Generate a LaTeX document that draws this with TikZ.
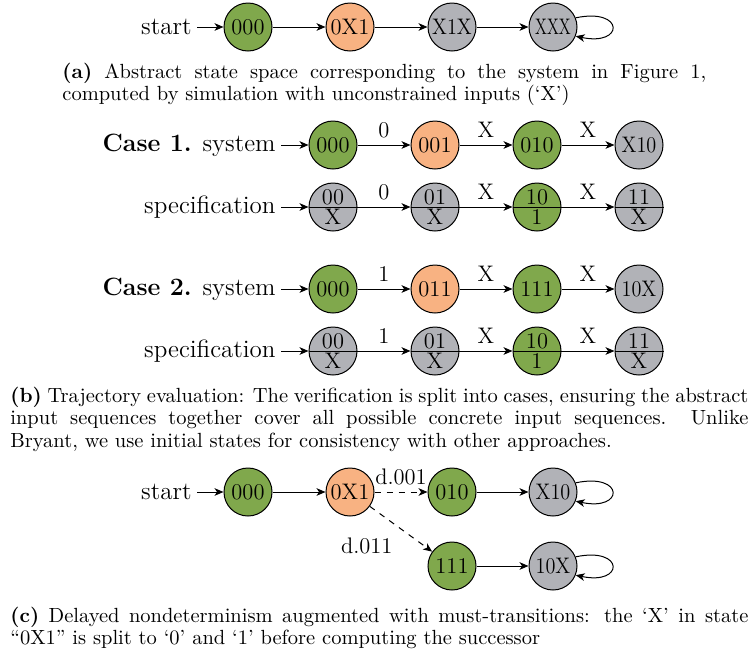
\documentclass[tikz,border=0pt]{standalone}
\usepackage{graphicx}
\usetikzlibrary{arrows.meta}
\definecolor{sgreen}{RGB}{128,168,76}
\definecolor{sorange}{RGB}{248,178,130}
\definecolor{sgray}{RGB}{177,178,183}
\newcommand\nfont{\fontsize{11.25}{13.5}\selectfont}
\newcommand\lfont{\fontsize{12.5}{15}\selectfont}
\newcommand\cfont{\fontsize{10.25}{11.25}\selectfont}
\newcommand\sq[2]{\scalebox{#1}[1]{#2}}
\newcommand\jl[2]{\hbox to #1{#2}}
\tikzset{
  state/.style={circle, draw, line width=0.5pt, minimum size=24pt, inner sep=0pt, font=\nfont},
  gst/.style={state, fill=sgreen},
  ost/.style={state, fill=sorange},
  yst/.style={state, fill=sgray},
  stxt/.style={inner sep=0.5pt, font=\nfont},
  lbl/.style={inner sep=2.5pt, font=\lfont, anchor=east},
  elbl/.style={inner sep=3.5pt, font=\nfont},
  arr/.style={-{Stealth[length=4.5pt,width=3.8pt,inset=1.3pt]}, line width=0.5pt},
  captxt/.style={inner sep=0pt, align=justify, font=\cfont, anchor=base west}
}
\newcommand\specnode[5]{%
  \node[state, fill=#4] (#1) at #5 {};
  \draw[line width=0.5pt] (#1.west) -- (#1.east);
  \node[stxt, anchor=south, yshift=0.5pt] (#1t) at (#1.center) {#2};
  \node[stxt, anchor=north, yshift=-0.5pt] (#1b) at (#1.center) {#3};
}
\begin{document}
\begin{tikzpicture}[x=0.5pt,y=-0.5pt]
\useasboundingbox (0,0) rectangle (751,654);
% ---------- (a)
\node[lbl] (astart) at (197,27) {start};
\node[gst] (a1) at (248,27) {000};
\node[ost] (a2) at (350,27) {0X1};
\node[yst] (a3) at (452,27) {\sq{0.9}{X1X}};
\node[yst] (a4) at (553,27) {\sq{0.72}{XXX}};
\draw[arr] (astart) -- (a1);
\draw[arr] (a1) -- (a2);
\draw[arr] (a2) -- (a3);
\draw[arr] (a3) -- (a4);
\draw[arr] (a4.22) .. controls +(-12:50) and +(12:50) .. (a4.-22);
\node[captxt, text width=322pt] (capa) at (62,78) {\jl{322pt}{\textbf{(a)} Abstract state space corresponding to the system in Figure~1,}\par\noindent computed by simulation with unconstrained inputs (`X')};
% ---------- (b) case 1
\node[lbl] (c1lab) at (281,145) {\textbf{Case 1.} system};
\node[gst] (s1a) at (333,145) {000};
\node[ost] (s1b) at (435,145) {001};
\node[gst] (s1c) at (537,145) {010};
\node[yst] (s1d) at (639,145) {\sq{0.9}{X10}};
\draw[arr] (c1lab) -- (s1a);
\draw[arr] (s1a) -- node[elbl, above] {0} (s1b);
\draw[arr] (s1b) -- node[elbl, above] {X} (s1c);
\draw[arr] (s1c) -- node[elbl, above] {X} (s1d);
\node[lbl] (p1lab) at (281,207) {specification};
\specnode{p1a}{00}{X}{sgray}{(333,207)}
\specnode{p1b}{01}{X}{sgray}{(435,207)}
\specnode{p1c}{10}{1}{sgreen}{(537,207)}
\specnode{p1d}{11}{X}{sgray}{(639,207)}
\draw[arr] (p1lab) -- (p1a);
\draw[arr] (p1a) -- node[elbl, above] {0} (p1b);
\draw[arr] (p1b) -- node[elbl, above] {X} (p1c);
\draw[arr] (p1c) -- node[elbl, above] {X} (p1d);
% ---------- (b) case 2
\node[lbl] (c2lab) at (281,289) {\textbf{Case 2.} system};
\node[gst] (s2a) at (333,289) {000};
\node[ost] (s2b) at (435,289) {011};
\node[gst] (s2c) at (537,289) {111};
\node[yst] (s2d) at (639,289) {\sq{0.9}{10X}};
\draw[arr] (c2lab) -- (s2a);
\draw[arr] (s2a) -- node[elbl, above] {1} (s2b);
\draw[arr] (s2b) -- node[elbl, above] {X} (s2c);
\draw[arr] (s2c) -- node[elbl, above] {X} (s2d);
\node[lbl] (p2lab) at (281,351) {specification};
\specnode{p2a}{00}{X}{sgray}{(333,351)}
\specnode{p2b}{01}{X}{sgray}{(435,351)}
\specnode{p2c}{10}{1}{sgreen}{(537,351)}
\specnode{p2d}{11}{X}{sgray}{(639,351)}
\draw[arr] (p2lab) -- (p2a);
\draw[arr] (p2a) -- node[elbl, above] {1} (p2b);
\draw[arr] (p2b) -- node[elbl, above] {X} (p2c);
\draw[arr] (p2c) -- node[elbl, above] {X} (p2d);
\node[captxt, text width=369pt] (capb) at (10,402) {\jl{369pt}{\textbf{(b)} Trajectory evaluation: The verification is split into cases, ensuring the abstract}\par\noindent\jl{369pt}{input sequences together cover all possible concrete input sequences. Unlike}\par\noindent Bryant, we use initial states for consistency with other approaches.};
% ---------- (c)
\node[lbl] (cstart) at (197,492) {start};
\node[gst] (c1) at (248,492) {000};
\node[ost] (c2) at (350,492) {0X1};
\node[gst] (c3) at (452,492) {010};
\node[yst] (c4) at (553,492) {\sq{0.9}{X10}};
\node[gst] (c5) at (452,566) {111};
\node[yst] (c6) at (553,566) {\sq{0.9}{10X}};
\draw[arr] (cstart) -- (c1);
\draw[arr] (c1) -- (c2);
\draw[arr, dashed] (c2) -- node[elbl, above] {d.001} (c3);
\draw[arr] (c3) -- (c4);
\draw[arr, dashed] (c2) -- node[elbl, below left, inner sep=4pt] {d.011} (c5);
\draw[arr] (c5) -- (c6);
\draw[arr] (c4.22) .. controls +(-12:50) and +(12:50) .. (c4.-22);
\draw[arr] (c6.22) .. controls +(-12:50) and +(12:50) .. (c6.-22);
\node[captxt, text width=369pt] (capc) at (10,622) {\jl{369pt}{\textbf{(c)} Delayed nondeterminism augmented with must-transitions: the `X' in state}\par\noindent ``0X1'' is split to `0' and `1' before computing the successor};
\end{tikzpicture}
\end{document}
